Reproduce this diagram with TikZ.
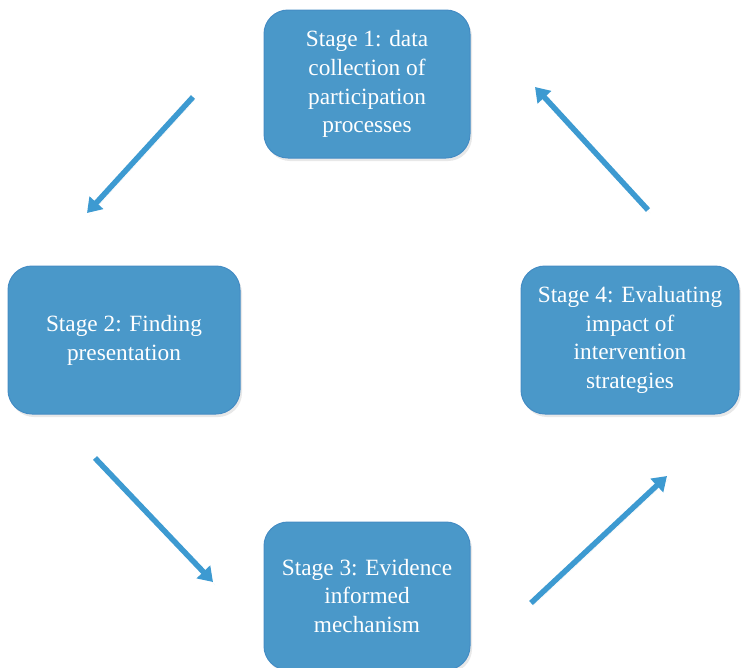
\documentclass[tikz,border=0pt]{standalone}
\usepackage{fontspec}
\setmainfont{Liberation Serif}
\usepackage{tikz}
\usetikzlibrary{arrows.meta}
\usetikzlibrary{positioning,shapes,calc,shadows}
\definecolor{blue1}{RGB}{74, 152, 201}
\definecolor{blue2}{RGB}{68, 140, 196}
\definecolor{blue3}{RGB}{61, 154, 209}
\tikzstyle{stage} = [rectangle,rounded corners=24pt,fill=blue1,draw=blue2,line width=1pt,text=white,align=center,font=\fontsize{23.3}{28.8}\selectfont,inner sep=0pt,drop shadow={opacity=0.18,shadow xshift=2pt,shadow yshift=-3pt}]
\tikzstyle{arrow_stage} = [-{Triangle[width=18pt,length=14pt]}, draw=blue3, fill=blue3, line width=5.5pt,drop shadow={opacity=0.2,shadow xshift=2pt,shadow yshift=-3pt}]

\begin{document}
\begin{tikzpicture}[x=1pt,y=-1pt]
      \useasboundingbox (0,0) rectangle (742,667);
      \clip (0,0) rectangle (742,667);

      \node[stage,minimum width=206pt,minimum height=148pt] (s1) at (367,84)  {Stage 1: data\\collection of\\participation\\processes};
      \node[stage,minimum width=232pt,minimum height=148pt] (s2) at (124,340) {Stage 2: Finding\\presentation};
      \node[stage,minimum width=206pt,minimum height=148pt] (s3) at (367,596) {Stage 3: Evidence\\informed\\mechanism};
      \node[stage,minimum width=218pt,minimum height=148pt] (s4) at (630,340) {Stage 4: Evaluating\\impact of\\intervention\\strategies};

      % free arrow ends
      \coordinate (a1) at (193,97);  \coordinate (b1) at (87,213);
      \coordinate (a2) at (95,458);  \coordinate (b2) at (213,582);
      \coordinate (a3) at (531,603); \coordinate (b3) at (667,476);
      \coordinate (a4) at (648,210); \coordinate (b4) at (535,87);

      \foreach \i in {1,2,3,4} {
        \draw[arrow_stage] (a\i) -- (b\i);
      }
\end{tikzpicture}
\end{document}
